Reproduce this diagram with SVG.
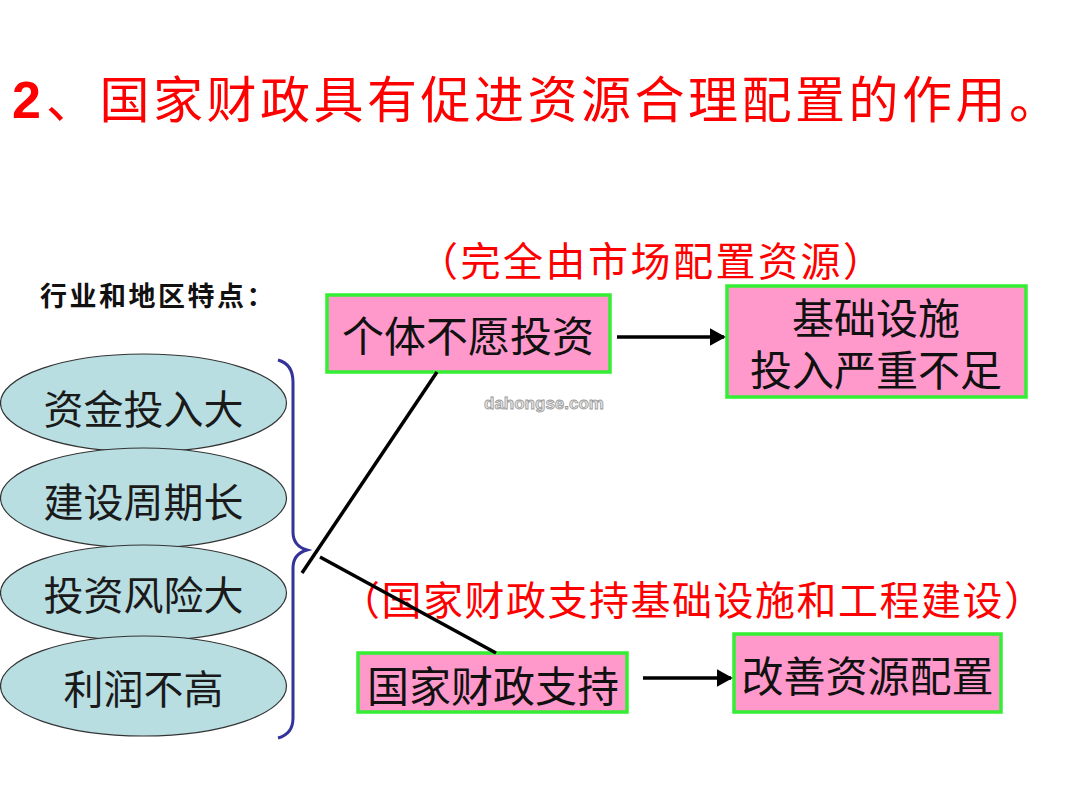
<svg xmlns="http://www.w3.org/2000/svg" width="1080" height="810" viewBox="0 0 1080 810">
<style>
.cjk{font-family:"Noto Sans CJK SC","Noto Sans CJK JP",sans-serif;}
.title{fill:#ff0000;font-size:50px;letter-spacing:3.5px;}
.red{fill:#ff0000;font-size:40px;}
.box rect{fill:#ff99cc;stroke:#33ee33;stroke-width:3.5;}
.box text{fill:#111;font-size:42px;text-anchor:middle;}
.ell ellipse{fill:#b8dee2;stroke:#333;stroke-width:1.2;}
.ell text{fill:#1a1a1a;font-size:40px;text-anchor:middle;}
.conn line{stroke:#000;stroke-width:3.5;}
.arrow{stroke:#000;stroke-width:4;marker-end:url(#ah);}
</style>
<defs>
<marker id="ah" markerWidth="5" markerHeight="5" refX="4" refY="2.5" orient="auto" markerUnits="strokeWidth">
<path d="M0,0 L4.5,2.5 L0,5 Z" fill="#000"/>
</marker>
</defs>
<rect x="0" y="0" width="1080" height="810" fill="#ffffff"/>

<g id="title">
<text x="12" y="118" font-family="Liberation Sans, Arial, sans-serif" font-weight="bold" font-size="52" fill="#ff0000">2</text>
<text x="46" y="118" class="cjk title">、国家财政具有促进资源合理配置的作用。</text>
</g>

<g id="subtitle">
<text x="40" y="306" class="cjk" font-size="27" font-weight="bold" fill="#111" letter-spacing="2.5">行业和地区特点：</text>
</g>

<g id="label-market">
<text x="418" y="276" class="cjk red" letter-spacing="2.5">（完全由市场配置资源）</text>
</g>
<g id="label-state">
<text x="340" y="615" class="cjk red" letter-spacing="1.5">（国家财政支持基础设施和工程建设）</text>
</g>

<g id="ellipse1" class="ell">
<ellipse cx="143.5" cy="403" rx="143" ry="49"/>
<text x="143.5" y="424" class="cjk">资金投入大</text>
</g>
<g id="ellipse2" class="ell">
<ellipse cx="143.5" cy="498" rx="143" ry="50"/>
<text x="143.5" y="517" class="cjk">建设周期长</text>
</g>
<g id="ellipse3" class="ell">
<ellipse cx="143.5" cy="593" rx="143" ry="48"/>
<text x="143.5" y="610" class="cjk">投资风险大</text>
</g>
<g id="ellipse4" class="ell">
<ellipse cx="143.5" cy="686" rx="143" ry="50"/>
<text x="143.5" y="704" class="cjk">利润不高</text>
</g>

<g id="brace">
<path d="M278,360 Q293,364 293,382 L293,532 Q293,546 307,550 Q293,554 293,568 L293,718 Q293,734 278,738" fill="none" stroke="#333399" stroke-width="3"/>
</g>

<g id="box-individual" class="box">
<rect x="327" y="295" width="283" height="77"/>
<text x="468" y="352" class="cjk">个体不愿投资</text>
</g>
<g id="box-infra" class="box">
<rect x="727" y="286" width="299" height="111"/>
<text x="876" y="334" class="cjk">基础设施</text>
<text x="876" y="386" class="cjk">投入严重不足</text>
</g>
<g id="box-state" class="box">
<rect x="358" y="653" width="269" height="59"/>
<text x="493" y="702" class="cjk">国家财政支持</text>
</g>
<g id="box-improve" class="box">
<rect x="734" y="634" width="267" height="78"/>
<text x="867.5" y="692" class="cjk">改善资源配置</text>
</g>

<g id="connectors" class="conn">
<line x1="437" y1="372" x2="302" y2="573"/>
<line x1="320" y1="557" x2="496" y2="653"/>
<line class="arrow" x1="617" y1="337" x2="724" y2="337"/>
<line class="arrow" x1="643" y1="678" x2="731" y2="678"/>
</g>

<g id="watermark">
<text x="544" y="409" font-family="Liberation Sans, Arial, sans-serif" font-weight="bold" font-size="17" text-anchor="middle" fill="#e6e6e6" stroke="#9a9a9a" stroke-width="0.8">dahongse.com</text>
</g>
</svg>
